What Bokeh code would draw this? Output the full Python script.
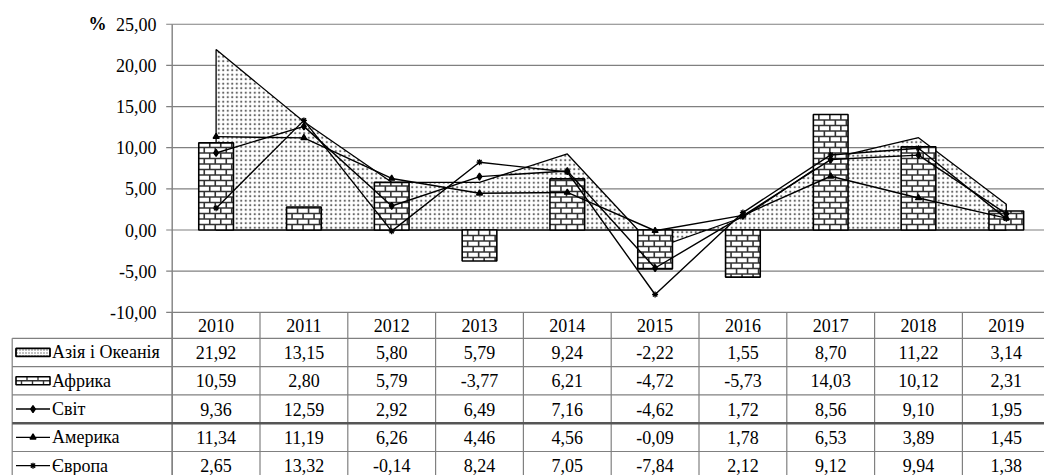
import math
from bokeh.plotting import figure
from bokeh.models import Range1d
from bokeh.core.properties import value
from bokeh.embed import file_html
from bokeh.resources import INLINE

# ---------------- data ----------------
years = ["2010", "2011", "2012", "2013", "2014", "2015", "2016", "2017", "2018", "2019"]
asia = [21.92, 13.15, 5.80, 5.79, 9.24, -2.22, 1.55, 8.70, 11.22, 3.14]
africa = [10.59, 2.80, 5.79, -3.77, 6.21, -4.72, -5.73, 14.03, 10.12, 2.31]
world = [9.36, 12.59, 2.92, 6.49, 7.16, -4.62, 1.72, 8.56, 9.10, 1.95]
america = [11.34, 11.19, 6.26, 4.46, 4.56, -0.09, 1.78, 6.53, 3.89, 1.45]
europe = [2.65, 13.32, -0.14, 8.24, 7.05, -7.84, 2.12, 9.12, 9.94, 1.38]
series_names = ["Азія і Океанія", "Африка", "Світ", "Америка", "Європа"]
y_ticks = [-10, -5, 0, 5, 10, 15, 20, 25]
unit_label = "%"

# ---------------- layout (page pixels) ----------------
W, H = 1044, 475
PX0, PY0 = 0, 0
CAT_LEFT = 171.7
CAT_W = 87.8
Y_ZERO = 229.5
Y_SCALE = 8.23
TABLE_LEFT = 11.7
HEADER_H = 26.0
ROW_H = 28.3
FONT = value("Liberation Serif")
FS = "18px"
GRID_C = "#808080"
DOT_C = "#666666"


def xv(px):
    return -0.5 + (px - CAT_LEFT) / CAT_W


def yv(py):
    return (Y_ZERO - py) / Y_SCALE


def ypx(v):
    return Y_ZERO - v * Y_SCALE


def xpx(x):
    return CAT_LEFT + (x + 0.5) * CAT_W


def fmt(v):
    return f"{v:.2f}".replace(".", ",")


p = figure(width=W, height=H,
           x_range=Range1d(xv(PX0), xv(PX0 + W)),
           y_range=Range1d(yv(PY0 + H), yv(PY0)),
           output_backend="svg", toolbar_location=None,
           x_axis_location=None, y_axis_location=None, min_border=0)
for g in list(p.center):
    g.visible = False
p.outline_line_color = None
p.background_fill_color = "white"
p.border_fill_color = "white"

idx = list(range(len(years)))
n = len(years)
TABLE_TOP = y_ticks[0]
table_top_px = ypx(TABLE_TOP)
table_bottom_px = table_top_px + HEADER_H + ROW_H * len(series_names)

# ---------------- gridlines, ticks, axis ----------------
p.segment(x0=[-0.5] * len(y_ticks), x1=[n - 0.5] * len(y_ticks), y0=y_ticks, y1=y_ticks,
          line_color=GRID_C, line_width=1.2)
p.segment(x0=[xv(CAT_LEFT - 6)] * len(y_ticks), x1=[-0.5] * len(y_ticks), y0=y_ticks, y1=y_ticks,
          line_color=GRID_C, line_width=1.2)
p.segment(x0=[-0.5], x1=[-0.5], y0=[y_ticks[-1]], y1=[yv(table_bottom_px + 20)],
          line_color=GRID_C, line_width=1.4)
p.text(x=[xv(156)] * len(y_ticks), y=y_ticks, text=[fmt(t) for t in y_ticks],
       text_align="right", text_baseline="middle", text_font=FONT, text_font_size=FS,
       text_color="black")
p.text(x=[xv(106)], y=[y_ticks[-1]], text=[unit_label], text_align="right",
       text_baseline="middle", text_font=FONT, text_font_size=FS, text_font_style="bold",
       text_color="black")

# ---------------- area (Asia & Oceania) ----------------
p.patch(x=[idx[0]] + idx + [idx[-1]], y=[0] + asia + [0], fill_color="white",
        hatch_pattern="dot", hatch_color=DOT_C, hatch_scale=4.5, hatch_weight=1.2,
        line_color="black", line_width=1.3)


# ---------------- bricks helper ----------------
def bricks(xl, xr, y_base, y_end, bh=5.5, bw=11.0):
    """pixel coords; returns segments in data coordinates"""
    x0s, x1s, y0s, y1s = [], [], [], []
    d = -1 if y_end < y_base else 1
    height = abs(y_end - y_base)
    k = 0
    while k * bh < height:
        yk = y_base + d * k * bh
        if k > 0:
            x0s.append(xv(xl)); x1s.append(xv(xr)); y0s.append(yv(yk)); y1s.append(yv(yk))
        off = 0 if k % 2 == 0 else bw / 2
        xx = xl + off + bw / 2
        yk2 = y_base + d * min((k + 1) * bh, height)
        while xx < xr - 1:
            if xx > xl + 1:
                x0s.append(xv(xx)); x1s.append(xv(xx)); y0s.append(yv(yk)); y1s.append(yv(yk2))
            xx += bw
        k += 1
    return x0s, x1s, y0s, y1s


# ---------------- bars (Africa) ----------------
BAR_W = 0.395
p.vbar(x=idx, top=africa, bottom=0, width=BAR_W, fill_color="white", line_color=None)
bx0, bx1, by0, by1 = [], [], [], []
for i, v in zip(idx, africa):
    a, b, c, d = bricks(xpx(i - BAR_W / 2), xpx(i + BAR_W / 2), ypx(0), ypx(v))
    bx0 += a; bx1 += b; by0 += c; by1 += d
p.segment(x0=bx0, x1=bx1, y0=by0, y1=by1, line_color="#333333", line_width=1.6)
p.vbar(x=idx, top=africa, bottom=0, width=BAR_W, fill_color=None, line_color="black",
       line_width=1.6)

# ---------------- lines ----------------
line_specs = [(world, "diamond", 7), (america, "triangle", 6), (europe, "asterisk", 6)]
for vals, mk, sz in line_specs:
    p.line(x=idx, y=vals, line_color="black", line_width=1.4)
    p.scatter(x=idx, y=vals, marker=mk, size=sz, fill_color="black", line_color="black",
              line_width=1.3)

# ---------------- data table ----------------
row_tops = [table_top_px + HEADER_H + ROW_H * k for k in range(len(series_names))]
hy = yv(table_top_px + HEADER_H / 2)
p.text(x=idx, y=[hy] * n, text=years, text_align="center", text_baseline="middle",
       text_font=FONT, text_font_size=FS, text_color="black")
cols = [k - 0.5 for k in range(n + 1)]
p.segment(x0=cols, x1=cols, y0=[TABLE_TOP] * len(cols), y1=[yv(table_bottom_px + 20)] * len(cols),
          line_color=GRID_C, line_width=1.2)
p.segment(x0=[xv(TABLE_LEFT)], x1=[xv(TABLE_LEFT)], y0=[yv(row_tops[0])],
          y1=[yv(table_bottom_px + 20)], line_color=GRID_C, line_width=1.2)
for k, rt in enumerate(row_tops + [table_bottom_px]):
    lw = 2.6 if k == 3 else 1.2
    lc = "#555555" if k == 3 else GRID_C
    p.segment(x0=[xv(TABLE_LEFT)], x1=[n - 0.5], y0=[yv(rt)], y1=[yv(rt)],
              line_color=lc, line_width=lw)

all_series = [asia, africa, world, america, europe]
for k, (name, vals) in enumerate(zip(series_names, all_series)):
    cy = yv(row_tops[k] + ROW_H / 2)
    p.text(x=idx, y=[cy] * n, text=[fmt(v) for v in vals], text_align="center",
           text_baseline="middle", text_font=FONT, text_font_size=FS, text_color="black")
    p.text(x=[xv(51.5)], y=[cy], text=[name], text_align="left", text_baseline="middle",
           text_font=FONT, text_font_size=FS, text_color="black")

# legend keys in table
KEY_L, KEY_R = 15.5, 49.5
c0 = row_tops[0] + ROW_H / 2
p.quad(left=[xv(KEY_L)], right=[xv(KEY_R)], bottom=[yv(c0 + 4)], top=[yv(c0 - 4)],
       fill_color="white", hatch_pattern="dot", hatch_color=DOT_C, hatch_scale=3,
       hatch_weight=1.3, line_color="black", line_width=1.8)
c1 = row_tops[1] + ROW_H / 2
a, b, c, d = bricks(KEY_L, KEY_R, c1 + 4, c1 - 4, bh=4.0, bw=11.0)
p.quad(left=[xv(KEY_L)], right=[xv(KEY_R)], bottom=[yv(c1 + 4)], top=[yv(c1 - 4)],
       fill_color="white", line_color=None)
p.segment(x0=a, x1=b, y0=c, y1=d, line_color="#333333", line_width=1.4)
p.quad(left=[xv(KEY_L)], right=[xv(KEY_R)], bottom=[yv(c1 + 4)], top=[yv(c1 - 4)],
       fill_color=None, line_color="black", line_width=1.6)
for k, (vals, mk, sz) in zip([2, 3, 4], line_specs):
    ck = yv(row_tops[k] + ROW_H / 2)
    p.segment(x0=[xv(KEY_L)], x1=[xv(KEY_R)], y0=[ck], y1=[ck], line_color="black",
              line_width=1.4)
    p.scatter(x=[xv((KEY_L + KEY_R) / 2)], y=[ck], marker=mk, size=sz, fill_color="black",
              line_color="black", line_width=1.3)

open("out.html", "w").write(file_html(p, INLINE))
